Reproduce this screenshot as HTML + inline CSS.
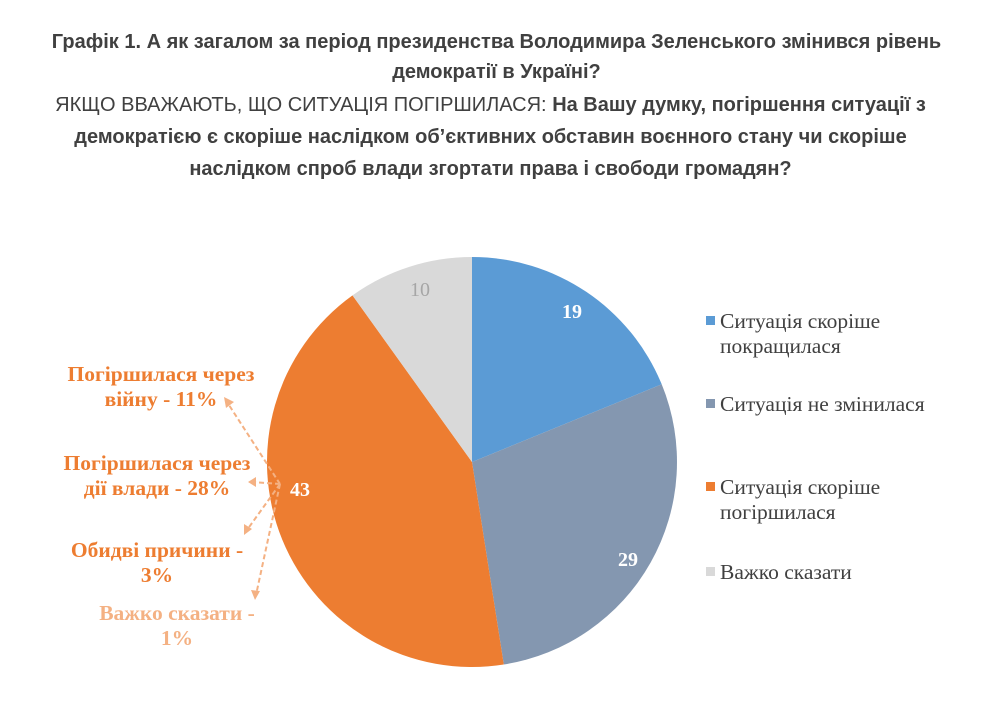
<!DOCTYPE html>
<html><head><meta charset="utf-8"><style>
body{margin:0;background:#fff;width:993px;height:710px;overflow:hidden;font-family:"Liberation Sans",sans-serif;}
.t{position:absolute;left:0;width:993px;text-align:center;color:#404040;font-size:20px;white-space:nowrap;}
</style></head><body>
<div class="t" style="top:27px;line-height:30px;font-weight:bold;">Графік 1. А як загалом за період президенства Володимира Зеленського змінився рівень<br>демократії в Україні?</div>
<div class="t" style="top:89px;line-height:32px;left:-6px;">ЯКЩО ВВАЖАЮТЬ, ЩО СИТУАЦІЯ ПОГІРШИЛАСЯ: <b>На Вашу думку, погіршення ситуації з<br>демократією є скоріше наслідком об’єктивних обставин воєнного стану чи скоріше<br>наслідком спроб влади згортати права і свободи громадян?</b></div>
<svg width="993" height="710" style="position:absolute;left:0;top:0" font-family="Liberation Serif, serif">
<path d="M472,462 L472,257 A205,205 0 0 1 661.7,384.3 Z" fill="#5b9bd5"/>
<path d="M472,462 L661.7,384.3 A205,205 0 0 1 503.8,664.5 Z" fill="#8497b0"/>
<path d="M472,462 L503.8,664.5 A205,205 0 0 1 352.5,295.4 Z" fill="#ed7d31"/>
<path d="M472,462 L352.5,295.4 A205,205 0 0 1 472,257 Z" fill="#d9d9d9"/>
<g font-weight="bold" font-size="20" fill="#fff" text-anchor="middle">
<text x="572" y="318">19</text><text x="628" y="566">29</text><text x="300" y="496">43</text><text x="420" y="296" fill="#a6a6a6" font-weight="normal">10</text></g>
<g stroke="#f4b183" stroke-width="2" stroke-dasharray="5,3" fill="none">
<line x1="280" y1="484" x2="227" y2="402"/><line x1="280" y1="484" x2="252" y2="482"/>
<line x1="280" y1="484" x2="247" y2="530"/><line x1="280" y1="484" x2="256" y2="595"/></g>
<g fill="#f4b183"><polygon points="224,397 234,402 226,408"/><polygon points="248,482 256,477 256,487"/><polygon points="244,535 244,524 252,529"/><polygon points="255,600 251,590 260,591"/></g>
<g font-weight="bold" font-size="21.5" text-anchor="middle" fill="#ed7d31">
<text x="161" y="381">Погіршилася через</text><text x="161" y="406">війну - 11%</text>
<text x="157" y="470">Погіршилася через</text><text x="157" y="495">дії влади - 28%</text>
<text x="157" y="557">Обидві причини -</text><text x="157" y="582">3%</text>
<g fill="#f4b183"><text x="177" y="620">Важко сказати -</text><text x="177" y="645">1%</text></g></g>
<g font-size="21.5" fill="#404040">
<rect x="706" y="316" width="9" height="9" fill="#5b9bd5"/><text x="720" y="328">Ситуація скоріше</text><text x="720" y="353">покращилася</text>
<rect x="706" y="399" width="9" height="9" fill="#8497b0"/><text x="720" y="411">Ситуація не змінилася</text>
<rect x="706" y="482" width="9" height="9" fill="#ed7d31"/><text x="720" y="494">Ситуація скоріше</text><text x="720" y="519">погіршилася</text>
<rect x="706" y="567" width="9" height="9" fill="#d9d9d9"/><text x="720" y="579">Важко сказати</text></g>
</svg>
</body></html>
